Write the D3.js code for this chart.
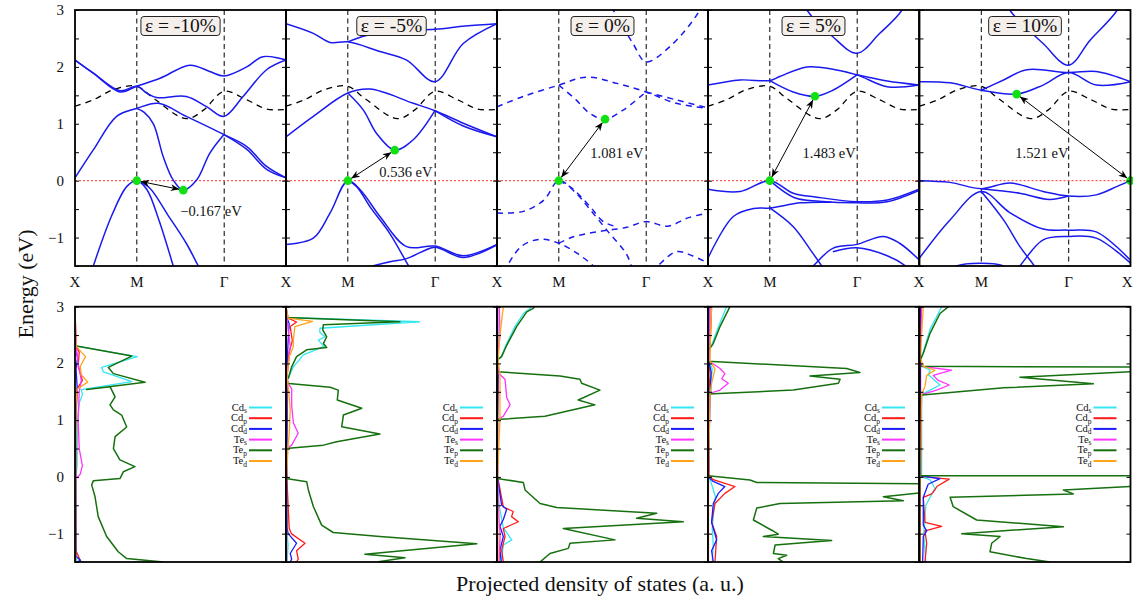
<!DOCTYPE html>
<html>
<head>
<meta charset="utf-8">
<script src="https://cdn.jsdelivr.net/npm/d3@7"></script>
<style>
  body { margin: 0; background: #fff; }
  svg { display: block; }
  text { font-family: "Liberation Serif", "Times New Roman", serif; fill: #111; }
</style>
</head>
<body>
<svg id="chart" width="1133" height="602"></svg>
<script>
// ---------- labels & markers ----------
const strainLabels = ["ε = -10%", "ε = -5%", "ε = 0%", "ε = 5%", "ε = 10%"];
const kTicks = [0, 0.5, 1.207, 1.707];
const kTickLabels = ["X", "M", "Γ", "X"];
const energyTicks = [-1, 0, 1, 2, 3];
const gapLabels = ["−0.167 eV", "0.536 eV", "1.081 eV", "1.483 eV", "1.521 eV"];
const vbmPoints = [[0.5, 0], [0.5, 0], [0.5, 0], [0.5, 0], [1.707, 0]];
const cbmPoints = [[0.876, -0.167], [0.88, 0.536], [0.874, 1.081], [0.865, 1.483], [0.786, 1.521]];

// ---------- unstrained conduction band (reference, dashed) ----------
const refConduction = [[0,1.31],[0.148,1.42],[0.31,1.6],[0.5,1.66],[0.634,1.45],[0.9,1.09],[1.04,1.24],[1.205,1.57],[1.39,1.42],[1.55,1.26],[1.707,1.25]];

// ---------- band structures: each entry is one branch of [k, E] ----------
const bandsM10 = [
  [[0,2.12],[0.148,1.89],[0.364,1.56],[0.5,1.66],[0.688,1.80],[0.93,2.03],[1.09,1.92],[1.205,1.84],[1.39,2.0],[1.52,2.18],[1.707,2.12]],
  [[0,2.12],[0.148,1.89],[0.364,1.58],[0.5,1.66],[0.58,1.54],[0.66,1.46],[0.9,1.48],[1.065,1.30],[1.205,1.13],[1.36,1.48],[1.55,1.95],[1.707,2.12]],
  [[0,0.05],[0.148,0.54],[0.337,1.13],[0.5,1.27],[0.674,1.36],[0.9,1.13],[1.205,0.81],[1.39,0.6],[1.55,0.25],[1.707,0.05]],
  [[1.205,0.81],[1.39,0.55],[1.55,0.2],[1.707,0.05]],
  [[0.5,1.27],[0.56,1.2],[0.634,1.0],[0.714,0.42],[0.795,0.01],[0.876,-0.167],[0.984,0.01],[1.09,0.48],[1.205,0.81]],
  [[0.148,-1.5],[0.3,-0.6],[0.42,-0.1],[0.5,0],[0.58,-0.15],[0.68,-0.7],[0.795,-1.5],[0.85,-1.9]],
  [[0.5,0],[0.6,-0.12],[0.75,-0.6],[0.9,-1.1],[0.998,-1.5],[1.05,-1.7]]
];
const bandsM5 = [
  [[0,2.76],[0.221,2.59],[0.356,2.43],[0.5,2.44],[0.76,2.27],[0.976,2.12],[1.205,1.74],[1.434,2.41],[1.707,2.76]],
  [[0.5,2.44],[0.65,2.55],[0.9,2.64],[1.205,2.66],[1.45,2.72],[1.707,2.76]],
  [[0,0.77],[0.221,1.13],[0.5,1.54],[0.68,1.61],[1.03,1.36],[1.205,1.23],[1.434,1.01],[1.707,0.77]],
  [[1.205,1.23],[1.434,0.96],[1.707,0.77]],
  [[0.5,1.54],[0.626,1.24],[0.733,0.83],[0.88,0.536],[1.03,0.72],[1.205,1.23]],
  [[0,-1.12],[0.221,-1.01],[0.356,-0.57],[0.5,0],[0.6,-0.16],[0.76,-0.63],[0.976,-1.16],[1.205,-1.15],[1.434,-1.32],[1.707,-1.12]],
  [[0.5,0],[0.57,-0.1],[0.68,-0.46],[0.84,-0.93],[0.99,-1.49],[1.05,-1.7]],
  [[0.7,-1.5],[0.85,-1.42],[0.976,-1.37],[1.1,-1.25],[1.205,-1.17],[1.434,-1.35],[1.707,-1.13]]
];
const bands0 = [
  [[0.85,3.4],[0.94,3.0],[1.1,2.41],[1.205,2.09],[1.4,2.36],[1.64,3.0],[1.7,3.4]],
  [[0,1.3],[0.213,1.48],[0.5,1.68],[0.725,1.82],[0.97,1.71],[1.205,1.56],[1.45,1.36],[1.707,1.27]],
  [[1.205,1.56],[1.45,1.42],[1.707,1.28]],
  [[0.5,1.68],[0.64,1.42],[0.752,1.18],[0.874,1.081],[1.02,1.24],[1.205,1.56]],
  [[0,-0.57],[0.213,-0.54],[0.38,-0.34],[0.5,0],[0.64,-0.22],[0.75,-0.5],[0.9,-0.9],[1.05,-1.3],[1.1,-1.6]],
  [[0.5,0],[0.6,-0.12],[0.75,-0.45],[0.86,-0.72],[0.95,-0.8]],
  [[0.5,-1.1],[0.6,-1.0],[0.75,-0.92],[0.9,-0.87],[1.05,-0.82],[1.205,-0.72],[1.38,-0.8],[1.55,-0.65],[1.707,-0.57]],
  [[0.05,-1.6],[0.08,-1.5],[0.2,-1.15],[0.35,-1.03],[0.5,-1.1],[0.65,-1.28],[0.78,-1.5],[0.82,-1.6]],
  [[1.25,-1.6],[1.3,-1.5],[1.45,-1.25],[1.58,-1.32],[1.707,-1.45]]
];
const bandsP5 = [
  [[0.72,3.4],[0.8,3.0],[1.01,2.53],[1.205,2.24],[1.39,2.59],[1.57,3.0],[1.65,3.4]],
  [[0,1.68],[0.26,1.77],[0.5,1.76],[0.58,1.83],[0.8,2.0],[1.01,1.96],[1.205,1.86],[1.45,1.65],[1.707,1.68]],
  [[1.205,1.86],[1.45,1.75],[1.707,1.68]],
  [[0.5,1.76],[0.69,1.56],[0.865,1.483],[1.01,1.59],[1.205,1.86]],
  [[0,-0.15],[0.26,-0.19],[0.5,0],[0.69,-0.22],[0.88,-0.29],[1.205,-0.37],[1.45,-0.34],[1.707,-0.15]],
  [[0.5,0],[0.7,-0.3],[0.9,-0.36],[1.205,-0.39],[1.45,-0.37],[1.707,-0.17]],
  [[0,-1.36],[0.205,-0.63],[0.37,-0.49],[0.5,-0.48],[0.75,-0.39],[1.0,-0.38]],
  [[0.5,-0.48],[0.69,-0.81],[0.83,-1.22],[0.92,-1.5],[0.95,-1.6]],
  [[0.8,-1.6],[0.85,-1.5],[1.01,-1.19],[1.205,-1.12],[1.42,-0.98],[1.55,-1.1],[1.707,-1.39]],
  [[1.01,-1.25],[1.205,-1.18],[1.45,-1.32],[1.6,-1.5],[1.65,-1.6]]
];
const bandsP10 = [
  [[0.65,3.4],[0.73,3.0],[1.0,2.41],[1.205,2.03],[1.38,2.47],[1.6,3.0],[1.68,3.4]],
  [[0,1.74],[0.247,1.72],[0.5,1.59],[0.786,1.521],[1.0,1.68],[1.205,1.9],[1.43,1.68],[1.707,1.74]],
  [[0.5,1.59],[0.68,1.77],[0.867,1.95],[1.205,1.9],[1.43,1.92],[1.707,1.74]],
  [[0,0],[0.247,-0.03],[0.5,-0.14],[0.73,-0.04],[1.0,-0.19],[1.205,-0.27],[1.43,-0.25],[1.6,-0.1],[1.707,0]],
  [[0.5,-0.14],[0.81,-0.22],[1.05,-0.33],[1.205,-0.27]],
  [[0,-1.36],[0.247,-0.69],[0.5,-0.19],[0.73,-0.56],[1.0,-0.85],[1.205,-0.87],[1.43,-0.9],[1.707,-1.4]],
  [[0.5,-0.19],[0.68,-0.69],[0.81,-1.15],[0.93,-1.5],[0.96,-1.6]],
  [[0.76,-1.6],[0.81,-1.5],[1.0,-1.04],[1.205,-0.98],[1.43,-1.01],[1.707,-1.45]],
  [[0.25,-1.6],[0.3,-1.5],[0.5,-1.45],[0.68,-1.5],[0.72,-1.6]]
];
const bandSets = [bandsM10, bandsM5, bands0, bandsP5, bandsP10];

// ---------- projected DOS: [E, DOS] per orbital (Cd s, Cd p, Cd d, Te s, Te p, Te d) ----------
const orbitalNames = [["Cd","s"],["Cd","p"],["Cd","d"],["Te","s"],["Te","p"],["Te","d"]];
const orbitalColors = ["#33e6f0", "#ff1a1a", "#1a1aff", "#ff33ff", "#16700f", "#ffa31a"];

const dosM10 = [
  [[3,0],[2.31,0],[2.12,2.95],[1.93,1.26],[1.85,1.35],[1.68,2.69],[1.54,0.3],[1.45,0.35],[1.3,0.2],[1.0,0.12],[0.2,0.1],[0,0.04],[-1.4,0.05],[-1.5,0.1]],
  [[3,0],[2.3,0.05],[2.2,0.2],[1.95,0.15],[1.7,0.35],[1.55,0.1],[1.0,0.05],[0,0.03],[-1.3,0.05],[-1.45,0.22],[-1.5,0.3]],
  [[3,0],[2.3,0.02],[2.1,0.12],[1.9,0.05],[1.6,0.1],[1.0,0.03],[-1.4,0.05],[-1.47,0.25],[-1.5,0.1]],
  [[3,0],[2.3,0.05],[2.0,0.15],[1.7,0.3],[1.5,0.2],[1.0,0.15],[0.5,0.2],[0.2,0.35],[0.05,0.25],[-0.05,0.02],[-1.5,0.02]],
  [[3,0],[2.31,0],[2.13,2.69],[1.93,1.58],[1.82,1.82],[1.667,3.32],[1.54,0.55],[1.59,1.66],[1.41,1.9],[1.27,1.66],[1.18,1.82],[1.09,2.21],[0.88,2.45],[0.71,1.9],[0.5,1.82],[0.3,2.13],[0.18,2.84],[0.09,2.29],[-0.03,2.13],[-0.07,0.87],[-0.14,0.79],[-0.35,0.95],[-0.7,1.1],[-1.05,1.5],[-1.32,2.05],[-1.44,2.45],[-1.5,4.19]],
  [[3,0],[2.31,0.05],[2.2,0.3],[2.12,0.5],[1.95,0.25],[1.8,0.3],[1.67,0.6],[1.55,0.1],[1.3,0.05],[0,0.03],[-1.5,0.03]]
];
const dosM5 = [
  [[3,0],[2.81,0],[2.735,6.32],[2.62,1.61],[2.55,1.6],[2.47,1.85],[2.41,1.53],[2.3,1.8],[2.15,0.82],[1.94,0.35],[1.74,0.11],[1.72,0],[1.5,0.03],[0.5,0.03],[0,0.02],[-1.0,0.05],[-1.2,0.1],[-1.5,0.05]],
  [[3,0],[2.8,0.1],[2.73,0.5],[2.65,0.2],[2.4,0.3],[2.2,0.15],[1.75,0.05],[1.6,0.05],[1.0,0.05],[0.5,0.02],[-0.1,0.05],[-0.9,0.15],[-1.0,0.25],[-1.17,0.9],[-1.3,0.5],[-1.45,0.58],[-1.5,0.5]],
  [[3,0],[2.8,0.05],[2.7,0.15],[2.4,0.1],[1.8,0.03],[1.0,0.05],[0,0.03],[-0.9,0.05],[-1.0,0.1],[-1.17,0.5],[-1.35,0.2],[-1.45,0.27],[-1.5,0.2]],
  [[3,0],[2.8,0.05],[2.6,0.1],[2.3,0.2],[1.8,0.05],[1.65,0.1],[1.55,0.27],[1.25,0.27],[0.95,0.35],[0.77,0.58],[0.56,0.27],[0.5,0.02],[0,0.02],[-1.5,0.03]],
  [[3,0],[2.81,0],[2.735,5.4],[2.68,1.77],[2.59,1.74],[2.47,1.93],[2.35,1.77],[2.28,1.93],[2.24,0.98],[2.12,0.5],[1.94,0.27],[1.74,0.11],[1.72,0],[1.65,0],[1.58,2.09],[1.53,2.48],[1.355,2.43],[1.21,3.59],[1.09,2.72],[0.885,2.64],[0.756,4.45],[0.62,2.4],[0.56,1.77],[0.5,0],[-0.026,0],[-0.085,0.98],[-0.23,1.06],[-0.525,1.3],[-0.85,1.69],[-0.98,2.24],[-1.05,4.45],[-1.18,9.04],[-1.365,3.74],[-1.424,5.64],[-1.495,4.38]],
  [[3,0],[2.8,0.1],[2.74,1.26],[2.65,0.42],[2.41,0.35],[2.3,0.35],[2.12,0.16],[1.8,0.05],[1.6,0.1],[1.2,0.2],[0.8,0.16],[0.55,0.1],[0,0.02],[-1.5,0.02]]
];
const dos0 = [
  [[3.05,1.7],[2.97,1.56],[2.88,1.25],[2.65,0.85],[2.32,0.42],[2.12,0.2],[2.06,0],[1.8,0.05],[1.0,0.03],[0,0.02],[-0.5,0.1],[-0.9,0.3],[-1.11,0.7],[-1.2,0.3],[-1.5,0.2]],
  [[3,0.03],[2.06,0.02],[1.8,0.05],[1.0,0.03],[0,0.03],[-0.53,0.3],[-0.61,0.77],[-0.7,0.69],[-0.79,1.01],[-0.91,0.3],[-1.05,0.38],[-1.29,0.22],[-1.5,0.3]],
  [[3,0.02],[1.8,0.05],[1.0,0.02],[0,0.02],[-0.5,0.22],[-0.57,0.46],[-0.75,0.3],[-0.87,0.14],[-1.05,0.3],[-1.29,0.14],[-1.5,0.2]],
  [[3,0.11],[2.5,0.14],[2.06,0.02],[1.83,0.06],[1.72,0.38],[1.4,0.46],[1.27,0.62],[1.07,0.3],[1.01,0.02],[0,0.02],[-0.8,0.1],[-1.0,0.15],[-1.5,0.1]],
  [[3.05,1.85],[2.97,1.72],[2.91,1.41],[2.65,0.93],[2.32,0.46],[2.12,0.22],[2.06,0],[1.855,0],[1.78,2.99],[1.72,3.93],[1.65,4.01],[1.53,4.88],[1.355,3.85],[1.27,4.64],[1.07,2.27],[1.01,0],[-0.026,0],[-0.1,1.25],[-0.23,1.33],[-0.47,2.04],[-0.54,2.83],[-0.64,7.57],[-0.73,6.62],[-0.79,8.83],[-0.91,3.14],[-1.11,5.59],[-1.17,3.46],[-1.26,3.38],[-1.35,2.51],[-1.5,2.04]],
  [[3,0.3],[2.5,0.14],[2.06,0.05],[1.8,0.14],[1.0,0.14],[0,0.02],[-1.5,0.05]]
];
const dosP5 = [
  [[3.05,0.95],[3.0,0.88],[2.65,0.5],[2.3,0.15],[2.24,0.02],[2.04,0.05],[1.9,0.2],[1.7,0.15],[1.5,0.15],[1.46,0.02],[0,0.02],[-0.1,0.15],[-0.35,0.35],[-0.5,0.3],[-0.9,0.2],[-1.2,0.25],[-1.5,0.2]],
  [[3,0.17],[2.3,0.1],[2.04,0.05],[1.8,0.1],[1.46,0.03],[0.02,0.05],[-0.05,0.25],[-0.17,1.28],[-0.29,0.8],[-0.47,0.33],[-0.8,0.17],[-1.05,0.41],[-1.5,0.33]],
  [[3,0.05],[2.04,0.03],[1.85,0.15],[1.5,0.1],[0,0.02],[-0.08,0.25],[-0.17,0.8],[-0.29,0.49],[-0.47,0.25],[-0.8,0.17],[-1.11,0.41],[-1.3,0.17],[-1.5,0.25]],
  [[3,0.1],[2.04,0.06],[1.91,0.57],[1.82,0.8],[1.73,0.65],[1.65,0.96],[1.53,0.57],[1.47,0.06],[0,0.02],[-1.5,0.02]],
  [[3.05,1.15],[3.0,1.04],[2.65,0.57],[2.35,0.25],[2.27,0.1],[2.24,0],[2.04,0],[1.91,6.57],[1.84,7.2],[1.78,4.83],[1.72,6.26],[1.65,6.18],[1.53,4.04],[1.46,0],[0.02,0],[-0.055,1.99],[-0.1,2.31],[-0.12,10.6],[-0.26,10.6],[-0.35,8.31],[-0.42,9.26],[-0.47,3.41],[-0.55,2.31],[-0.76,2.15],[-0.94,3.02],[-1.01,3.33],[-1.05,2.62],[-1.12,5.86],[-1.2,3.18],[-1.35,3.1],[-1.38,3.73],[-1.44,3.33],[-1.5,3.57]],
  [[3,0.17],[2.3,0.1],[2.04,0.1],[1.9,0.33],[1.65,0.17],[1.47,0.1],[0,0.02],[-1.5,0.02]]
];
const dosP10 = [
  [[3.05,1.15],[3.0,1.05],[2.6,0.5],[2.2,0.18],[2.03,0.02],[1.95,0.1],[1.88,0.5],[1.8,0.42],[1.62,0.97],[1.53,0.5],[1.45,0.1],[0,0.1],[-0.05,0.5],[-0.2,0.73],[-0.5,0.3],[-1.0,0.2],[-1.5,0.3]],
  [[3,0.05],[2.0,0.05],[1.5,0.05],[0.02,0.05],[-0.01,0.5],[-0.04,1.41],[-0.17,0.82],[-0.23,0.73],[-0.3,0.58],[-0.36,0.18],[-0.8,0.26],[-0.87,1.05],[-0.95,0.26],[-1.17,0.34],[-1.5,0.26]],
  [[3,0.03],[2.0,0.03],[1.5,0.03],[0.02,0.03],[-0.03,0.97],[-0.13,0.41],[-0.2,0.34],[-0.36,0.18],[-0.85,0.18],[-0.95,0.34],[-1.05,0.18],[-1.5,0.15]],
  [[3,0.1],[2.1,0.03],[1.95,0.1],[1.88,1.52],[1.79,0.65],[1.7,0.89],[1.62,1.41],[1.53,0.81],[1.45,0.1],[0,0.03],[-1.5,0.03]],
  [[3.05,1.45],[3.0,1.37],[2.88,0.97],[2.53,0.5],[2.18,0.18],[2.03,0],[1.95,0],[1.935,10.6],[1.86,10.6],[1.855,9.98],[1.755,4.76],[1.64,8.24],[1.57,4.0],[1.44,0],[0.02,0],[0.02,10.6],[-0.17,10.6],[-0.17,9.98],[-0.23,6.82],[-0.3,7.29],[-0.36,1.45],[-0.525,1.6],[-0.76,2.71],[-0.88,6.82],[-1.0,2.0],[-1.05,3.82],[-1.17,3.42],[-1.32,3.34],[-1.44,5.08],[-1.5,6.18]],
  [[3,0.18],[2.1,0.03],[1.95,0.18],[1.88,0.73],[1.79,0.34],[1.6,0.26],[1.45,0.1],[0,0.03],[-1.5,0.03]]
];
const dosSets = [dosM10, dosM5, dos0, dosP5, dosP10];

// ---------- layout ----------
const panelLefts = [75, 286, 497, 708, 919.5];
const panelW = 211;
const topY = [10, 266];
const botY = [306.7, 562];
const gapLabelAnchor = [[1.10, -0.62], [0.97, 0.065], [0.97, 0.40], [0.98, 0.40], [0.99, 0.40]];

const svg = d3.select("#chart");
const defs = svg.append("defs");
defs.append("marker").attr("id", "arrowhead")
  .attr("viewBox", "0 -4 10 8").attr("refX", 10).attr("refY", 0)
  .attr("markerWidth", 9).attr("markerHeight", 7).attr("markerUnits", "userSpaceOnUse")
  .attr("orient", "auto-start-reverse")
  .append("path").attr("d", "M0,-4L10,0L0,4L3,0Z").attr("fill", "#000");

const xK = d3.scaleLinear().domain([0, 1.707]).range([0, panelW]);
const yTop = d3.scaleLinear().domain([-1.5, 3]).range([topY[1], topY[0]]);
const yBot = d3.scaleLinear().domain([-1.5, 3]).range([botY[1], botY[0]]);
const xDos = d3.scaleLinear().domain([0, 10]).range([0, panelW]);
const minorTicks = d3.range(-1.5, 3.001, 0.5);

function drawTicks(g, y) {
  const l = g.append("g").call(d3.axisRight(y).tickValues(minorTicks).tickSize(4).tickFormat(""));
  const r = g.append("g").attr("transform", `translate(${panelW},0)`)
    .call(d3.axisLeft(y).tickValues(minorTicks).tickSize(4).tickFormat(""));
  [l, r].forEach(a => { a.select(".domain").remove(); a.selectAll("line").attr("stroke", "#000").attr("stroke-width", 1); });
}

const bandLine = d3.line().x(d => xK(d[0])).y(d => yTop(d[1])).curve(d3.curveCatmullRom.alpha(0.5));

// ---------- band-structure row ----------
panelLefts.forEach((left, i) => {
  const g = svg.append("g").attr("transform", `translate(${left},0)`);
  const cid = "clipTop" + i;
  defs.append("clipPath").attr("id", cid).append("rect")
    .attr("x", 0).attr("y", topY[0]).attr("width", panelW).attr("height", topY[1] - topY[0]);
  const inner = g.append("g").attr("clip-path", `url(#${cid})`);

  // high-symmetry verticals
  inner.selectAll(".kv").data(kTicks.slice(1, 3)).join("line")
    .attr("x1", d => xK(d)).attr("x2", d => xK(d)).attr("y1", topY[0]).attr("y2", topY[1])
    .attr("stroke", "#000").attr("stroke-width", 1).attr("stroke-dasharray", "5,3.5");
  // Fermi level
  inner.append("line").attr("x1", 0).attr("x2", panelW).attr("y1", yTop(0)).attr("y2", yTop(0))
    .attr("stroke", "#ff5a5a").attr("stroke-width", 1.3).attr("stroke-dasharray", "2,2");

  // unstrained conduction band for comparison
  if (i !== 2) {
    inner.append("path").datum(refConduction).attr("d", bandLine)
      .attr("fill", "none").attr("stroke", "#000").attr("stroke-width", 1.3).attr("stroke-dasharray", "6,5");
  }
  inner.selectAll(".band").data(bandSets[i]).join("path")
    .attr("d", bandLine).attr("fill", "none").attr("stroke", "#1a1aee").attr("stroke-width", 1.5)
    .attr("stroke-dasharray", i === 2 ? "6,5" : null);

  // gap arrow
  const p1 = [xK(vbmPoints[i][0]), yTop(vbmPoints[i][1])];
  const p2 = [xK(cbmPoints[i][0]), yTop(cbmPoints[i][1])];
  const dx = p2[0] - p1[0], dy = p2[1] - p1[1], len = Math.hypot(dx, dy);
  const s = 4 / len;
  g.append("line")
    .attr("x1", p1[0] + dx * s).attr("y1", p1[1] + dy * s)
    .attr("x2", p2[0] - dx * s).attr("y2", p2[1] - dy * s)
    .attr("stroke", "#000").attr("stroke-width", 1)
    .attr("marker-start", "url(#arrowhead)").attr("marker-end", "url(#arrowhead)");
  g.selectAll(".dot").data([vbmPoints[i], cbmPoints[i]]).join("circle")
    .attr("cx", d => xK(d[0])).attr("cy", d => yTop(d[1])).attr("r", 4.3).attr("fill", "#11e011");
  g.append("text").attr("x", xK(gapLabelAnchor[i][0])).attr("y", yTop(gapLabelAnchor[i][1]))
    .attr("text-anchor", "middle").attr("font-size", 14.5).text(gapLabels[i]);

  // frame and ticks
  g.append("rect").attr("x", 0).attr("y", topY[0]).attr("width", panelW).attr("height", topY[1] - topY[0])
    .attr("fill", "none").attr("stroke", "#000").attr("stroke-width", 1.8);
  drawTicks(g, yTop);

  // strain tag
  const tag = g.append("g");
  const t = tag.append("text").attr("x", panelW / 2).attr("y", 32).attr("text-anchor", "middle")
    .attr("font-size", 19.5).text(strainLabels[i]);
  const bb = t.node().getBBox();
  tag.insert("rect", "text").attr("x", bb.x - 4).attr("y", 16.5).attr("width", bb.width + 8).attr("height", 19)
    .attr("rx", 3).attr("fill", "#f5efec").attr("stroke", "#222").attr("stroke-width", 1);

  // k-path labels (shared X between neighbouring panels drawn once)
  const kIdx = i === 0 ? [0, 1, 2, 3] : [1, 2, 3];
  const last = i === panelLefts.length - 1;
  g.selectAll(".kl").data(kIdx).join("text")
    .attr("x", j => (last && j === 3) ? panelW + 2 : xK(kTicks[j]))
    .attr("y", 287)
    .attr("text-anchor", j => (last && j === 3) ? "end" : "middle")
    .attr("font-size", 15)
    .text(j => kTickLabels[j]);
});

// ---------- PDOS row ----------
const dosLine = d3.line().x(d => xDos(d[1])).y(d => yBot(d[0]));
panelLefts.forEach((left, i) => {
  const g = svg.append("g").attr("transform", `translate(${left},0)`);
  const cid = "clipBot" + i;
  defs.append("clipPath").attr("id", cid).append("rect")
    .attr("x", 0).attr("y", botY[0]).attr("width", panelW).attr("height", botY[1] - botY[0]);
  const inner = g.append("g").attr("clip-path", `url(#${cid})`);
  inner.selectAll(".pdos").data(dosSets[i]).join("path")
    .attr("d", dosLine).attr("fill", "none")
    .attr("stroke", (d, j) => orbitalColors[j])
    .attr("stroke-width", (d, j) => j === 4 ? 1.5 : 1.3)
    .attr("stroke-linejoin", "round");

  g.append("rect").attr("x", 0).attr("y", botY[0]).attr("width", panelW).attr("height", botY[1] - botY[0])
    .attr("fill", "none").attr("stroke", "#000").attr("stroke-width", 1.8);
  drawTicks(g, yBot);

  // legend
  const lg = g.append("g");
  orbitalNames.forEach((nm, j) => {
    const yy = 407.5 + j * 10.7;
    const tx = lg.append("text").attr("x", panelW - 39).attr("y", yy + 3).attr("text-anchor", "end").attr("font-size", 10.5);
    tx.append("tspan").text(nm[0]);
    tx.append("tspan").attr("font-size", 7.5).attr("dy", 2.5).text(nm[1]);
    lg.append("line").attr("x1", panelW - 37).attr("x2", panelW - 14).attr("y1", yy).attr("y2", yy)
      .attr("stroke", orbitalColors[j]).attr("stroke-width", 2);
  });
});

// ---------- energy tick labels ----------
[yTop, yBot].forEach(y => {
  svg.append("g").selectAll("text").data(energyTicks).join("text")
    .attr("x", 64).attr("y", d => y(d) + 5).attr("text-anchor", "end").attr("font-size", 15)
    .text(d => d < 0 ? "−" + Math.abs(d) : d);
});

// ---------- axis titles ----------
svg.append("text").attr("transform", "translate(33,284) rotate(-90)").attr("text-anchor", "middle")
  .attr("font-size", 22).text("Energy (eV)");
svg.append("text").attr("x", 600).attr("y", 591).attr("text-anchor", "middle")
  .attr("font-size", 22).text("Projected density of states (a. u.)");
</script>
</body>
</html>
